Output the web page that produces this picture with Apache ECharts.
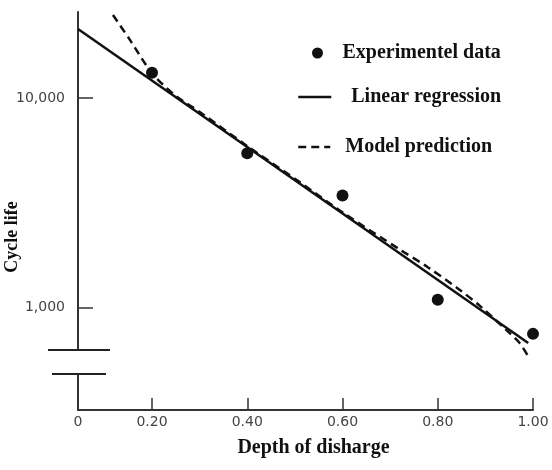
<!DOCTYPE html>
<html>
<head>
<meta charset="utf-8">
<script src="https://cdn.jsdelivr.net/npm/echarts@6/dist/echarts.min.js"></script>
<style>
  html, body { margin: 0; padding: 0; background: #fff; }
  #chart { width: 552px; height: 470px; }
</style>
</head>
<body>
<div id="chart"></div>
<script>
// data
const depthTicks = [0.2, 0.4, 0.6, 0.8, 1.0];
const xStart = 0.0446;              // where the broken axis begins (labelled "0")
const cycleTicks = [1000, 10000];

const expDepth = [0.2, 0.4, 0.6, 0.8, 1.0];
const expCycles = [13200, 5450, 3430, 1090, 750];

const regDepth = [0.0446, 0.99];
const regCycles = [21340, 678];

const modelDepth = [0.118, 0.154, 0.200, 0.248, 0.301, 0.400, 0.511, 0.605, 0.721, 0.779, 0.847, 0.889, 0.946, 0.972, 0.989];
const modelCycles = [24900, 18900, 13150, 10330, 8560, 5900, 3960, 2800, 1890, 1560, 1212, 1017, 775, 678, 590];

const zip = (a, b) => a.map((v, i) => [v, b[i]]);

const serif = '"Liberation Serif", "Times New Roman", serif';
const ink = '#111';
const legendText = { fontFamily: serif, fontWeight: 'bold', fontSize: 20, color: ink };

let myChart = echarts.init(document.getElementById('chart'));
myChart.setOption({
  animation: false,
  grid: { left: 78, right: 19, top: 12, bottom: 60, containLabel: false, outerBoundsMode: 'none' },
  legend: [
    {
      data: ['Experimentel data'],
      left: 307, top: 38,
      itemWidth: 40, itemHeight: 11,
      icon: 'circle',
      textStyle: legendText
    },
    {
      data: ['Linear regression'],
      left: 292, top: 82,
      itemWidth: 33, itemHeight: 14,
      itemStyle: { opacity: 0 },
      lineStyle: { width: 2.5 },
      formatter: n => '   ' + n,
      textStyle: legendText
    },
    {
      data: ['Model prediction'],
      left: 292, top: 132,
      itemWidth: 32, itemHeight: 14,
      itemStyle: { opacity: 0 },
      lineStyle: { width: 2.5 },
      formatter: n => '  ' + n,
      textStyle: legendText
    }
  ],
  xAxis: {
    type: 'value',
    min: xStart,
    max: 1.0,
    name: 'Depth of disharge',
    nameLocation: 'middle',
    nameGap: 28,
    nameMoveOverlap: false,
    nameTextStyle: { fontFamily: serif, fontWeight: 'bold', fontSize: 20, color: ink, padding: [0, 0, 0, 16] },
    splitLine: { show: false },
    axisLine: { lineStyle: { color: '#333', width: 2 } },
    axisTick: { inside: true, length: 12, customValues: depthTicks, lineStyle: { color: '#333', width: 1.5 } },
    axisLabel: {
      customValues: [xStart].concat(depthTicks),
      formatter: v => (v < 0.1 ? '0' : v.toFixed(2)),
      margin: 5,
      fontFamily: '"DejaVu Sans", sans-serif',
      fontSize: 14,
      color: '#444'
    }
  },
  yAxis: {
    type: 'log',
    min: 325,
    max: 25740,
    name: 'Cycle life',
    nameLocation: 'middle',
    nameGap: 57,
    nameMoveOverlap: false,
    nameTextStyle: { fontFamily: serif, fontWeight: 'bold', fontSize: 18, color: ink, padding: [0, 52, 0, 0] },
    splitLine: { show: false },
    axisLine: { lineStyle: { color: '#333', width: 2 } },
    axisTick: { inside: true, length: 15, customValues: cycleTicks, lineStyle: { color: '#333', width: 1.5 } },
    axisLabel: {
      customValues: cycleTicks,
      formatter: v => Math.round(v).toLocaleString('en-US'),
      margin: 13,
      fontFamily: '"DejaVu Sans", sans-serif',
      fontSize: 14,
      color: '#444'
    }
  },
  series: [
    {
      name: 'Experimentel data',
      type: 'scatter',
      symbolSize: 12,
      itemStyle: { color: ink, opacity: 1 },
      data: zip(expDepth, expCycles),
      z: 5
    },
    {
      name: 'Linear regression',
      type: 'line',
      showSymbol: false,
      symbol: 'none',
      lineStyle: { color: ink, width: 2.5 },
      itemStyle: { color: ink },
      data: zip(regDepth, regCycles)
    },
    {
      name: 'Model prediction',
      type: 'line',
      smooth: 0.3,
      showSymbol: false,
      symbol: 'none',
      lineStyle: { color: ink, width: 2.5, type: [8, 5] },
      itemStyle: { color: ink },
      data: zip(modelDepth, modelCycles)
    }
  ],
  graphic: [
    // axis break on the y axis
    { type: 'rect', shape: { x: 74, y: 351, width: 8, height: 23 }, style: { fill: '#fff' }, z: 100 },
    { type: 'line', shape: { x1: 48, y1: 350, x2: 110, y2: 350 }, style: { stroke: '#222', lineWidth: 2 }, z: 101 },
    { type: 'line', shape: { x1: 52, y1: 374, x2: 106, y2: 374 }, style: { stroke: '#222', lineWidth: 2 }, z: 101 }
  ]
});
</script>
</body>
</html>
